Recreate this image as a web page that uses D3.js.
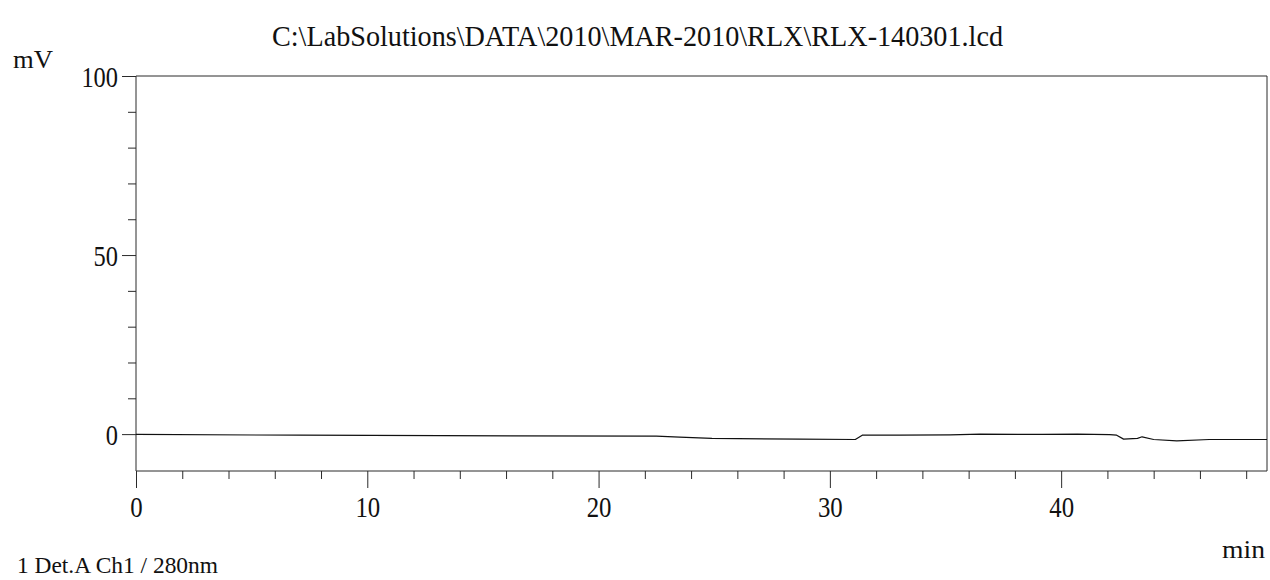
<!DOCTYPE html>
<html>
<head>
<meta charset="utf-8">
<script src="https://cdn.jsdelivr.net/npm/d3@7/dist/d3.min.js"></script>
<style>
  html, body { margin: 0; padding: 0; background: #fff; }
  svg { display: block; }
  text { font-family: "Liberation Serif", "Times New Roman", serif; fill: #111; }
</style>
</head>
<body>
<svg id="chart" width="1270" height="580"></svg>
<script>
// ---- data ----
const title = "C:\\LabSolutions\\DATA\\2010\\MAR-2010\\RLX\\RLX-140301.lcd";
const yUnit = "mV";
const xUnit = "min";
const legendText = "1 Det.A Ch1 / 280nm";

const timeMin = [0, 7.1, 16.2, 22.5, 23.5, 24.9, 28.7, 31.1, 31.4, 33.0, 35.2, 36.5, 39.2, 40.7, 42.1, 42.4, 42.7, 43.3, 43.5, 44.0, 45.0, 46.4, 48.9];
const signalMV = [-0.1, -0.3, -0.5, -0.55, -0.85, -1.2, -1.4, -1.5, -0.3, -0.3, -0.2, 0.0, -0.1, 0.0, -0.15, -0.3, -1.4, -1.2, -0.75, -1.5, -1.9, -1.5, -1.5];

const xDomain = [0, 48.9];
const yDomain = [-10.3, 100];
const xMajorTicks = [0, 10, 20, 30, 40];
const xMinorTicks = [2, 4, 6, 8, 12, 14, 16, 18, 22, 24, 26, 28, 32, 34, 36, 38, 42, 44, 46, 48];
const yMajorTicks = [0, 50, 100];
const yMinorTicks = [10, 20, 30, 40, 60, 70, 80, 90];

// ---- drawing ----
const svg = d3.select("#chart");
const L = 136, R = 1267, T = 76, B = 471;
const x = d3.scaleLinear().domain(xDomain).range([L, R]);
const y = d3.scaleLinear().domain(yDomain).range([B, T]);
const ink = "#2a2a2a";

// frame
const frame = svg.append("g").attr("stroke", ink).attr("stroke-width", 1).attr("fill", "none");
frame.append("line").attr("x1", x(xDomain[0])).attr("x2", x(xDomain[1])).attr("y1", y(yDomain[1])).attr("y2", y(yDomain[1]));
frame.append("line").attr("x1", x(xDomain[1])).attr("x2", x(xDomain[1])).attr("y1", y(yDomain[1])).attr("y2", y(yDomain[0]));
frame.append("line").attr("x1", x(xDomain[0])).attr("x2", x(xDomain[1])).attr("y1", y(yDomain[0])).attr("y2", y(yDomain[0]));
frame.append("line").attr("x1", x(xDomain[0])).attr("x2", x(xDomain[0])).attr("y1", y(yDomain[1])).attr("y2", y(yDomain[0]));

function styleAxis(g) {
  g.select(".domain").remove();
  g.selectAll(".tick line").attr("stroke", ink).attr("stroke-width", 1);
}

// x minor ticks
svg.append("g").attr("transform", `translate(0,${B})`)
  .call(d3.axisBottom(x).tickValues(xMinorTicks).tickSize(8).tickFormat(""))
  .call(styleAxis);

// x major ticks + labels
const gxM = svg.append("g").attr("transform", `translate(0,${B})`)
  .call(d3.axisBottom(x).tickValues(xMajorTicks).tickSize(17).tickFormat(d3.format("d")))
  .call(styleAxis);
gxM.selectAll(".tick text")
  .attr("dy", null).attr("y", 46)
  .attr("font-size", 30).attr("fill", "#111")
  .attr("font-family", "Liberation Serif")
  .attr("textLength", d => String(d).length * 12.4)
  .attr("lengthAdjust", "spacingAndGlyphs");

// y minor ticks
svg.append("g").attr("transform", `translate(${L},0)`)
  .call(d3.axisLeft(y).tickValues(yMinorTicks).tickSize(8).tickFormat(""))
  .call(styleAxis);

// y major ticks + labels
const gyM = svg.append("g").attr("transform", `translate(${L},0)`)
  .call(d3.axisLeft(y).tickValues(yMajorTicks).tickSize(14).tickFormat(d3.format("d")))
  .call(styleAxis);
gyM.selectAll(".tick text")
  .attr("dy", null).attr("y", 10).attr("x", -18)
  .attr("font-size", 30).attr("fill", "#111")
  .attr("font-family", "Liberation Serif")
  .attr("textLength", d => String(d).length * 12.2)
  .attr("lengthAdjust", "spacingAndGlyphs");

// trace
const line = d3.line().x((d, i) => x(timeMin[i])).y(d => y(d));
svg.append("path")
  .attr("d", line(signalMV))
  .attr("fill", "none").attr("stroke", "#111").attr("stroke-width", 1.2)
  .attr("stroke-linejoin", "round");

// texts
svg.append("text").attr("x", 272).attr("y", 46)
  .attr("font-size", 30).attr("textLength", 731).attr("lengthAdjust", "spacingAndGlyphs")
  .text(title);
svg.append("text").attr("x", 13).attr("y", 68)
  .attr("font-size", 26).attr("textLength", 40).attr("lengthAdjust", "spacingAndGlyphs")
  .text(yUnit);
svg.append("text").attr("x", 1222).attr("y", 558)
  .attr("font-size", 26).attr("textLength", 43).attr("lengthAdjust", "spacingAndGlyphs")
  .text(xUnit);
svg.append("text").attr("x", 17).attr("y", 573)
  .attr("font-size", 23).attr("textLength", 201).attr("lengthAdjust", "spacingAndGlyphs")
  .text(legendText);
</script>
</body>
</html>
